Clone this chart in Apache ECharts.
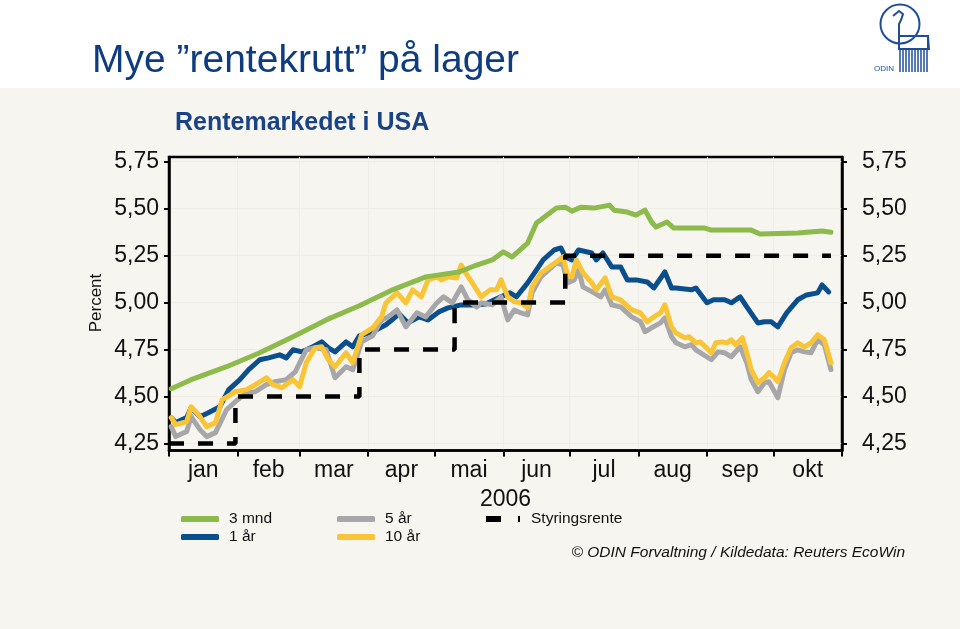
<!DOCTYPE html>
<html><head><meta charset="utf-8">
<script src="https://cdn.jsdelivr.net/npm/echarts@6/dist/echarts.min.js"></script>
<style>html,body{margin:0;padding:0;background:#fff}#c{width:960px;height:629px}</style>
</head><body><div id="c"></div>
<script>
// ---- data ----
const monthNames = ['jan','feb','mar','apr','mai','jun','jul','aug','sep','okt'];
const monthStarts = [0,31,59,90,120,151,181,212,243,273,304]; // day of year 2006
const monthMids = [15.5,45,74.5,105,135.5,166,196.5,227.5,258,288.5];
const yTicks = [4.25,4.5,4.75,5,5.25,5.5,5.75];

// 3 mnd
const daysM3 = [1,10,26,41,56,71,86,101,116,131,139,146,151,155,162,166,175,179,182,186,192,199,201,207,211,215,218,220,225,228,242,245,263,267,284,295,299];
const valsM3 = [4.542,4.590,4.659,4.733,4.818,4.908,4.983,5.068,5.137,5.163,5.200,5.227,5.270,5.243,5.317,5.424,5.503,5.508,5.487,5.508,5.503,5.519,5.492,5.482,5.466,5.492,5.429,5.402,5.429,5.397,5.397,5.386,5.386,5.365,5.370,5.381,5.375];
// 1 år
const days1Y = [1,3,8,10,14,18,23,27,32,36,41,45,50,53,56,60,65,69,72,75,80,83,86,92,98,104,108,113,117,122,126,132,139,143,147,150,154,157,162,166,169,174,177,179,182,185,191,193,196,200,204,207,211,216,219,224,227,229,236,238,243,246,251,254,258,261,266,269,272,275,279,284,288,293,295,298];
const vals1Y = [4.388,4.362,4.388,4.441,4.393,4.415,4.446,4.537,4.590,4.643,4.696,4.706,4.722,4.706,4.749,4.738,4.765,4.791,4.759,4.738,4.791,4.765,4.823,4.845,4.882,4.940,4.892,4.924,4.908,4.951,4.972,4.988,4.988,4.993,5.015,5.031,5.052,5.031,5.105,5.174,5.227,5.280,5.291,5.243,5.227,5.280,5.264,5.227,5.264,5.190,5.190,5.121,5.121,5.110,5.078,5.163,5.078,5.078,5.068,5.078,4.999,5.015,5.015,4.999,5.031,4.977,4.892,4.898,4.898,4.871,4.945,5.015,5.041,5.052,5.094,5.057];
// 5 år
const days5Y = [1,3,8,10,14,17,21,26,30,35,39,44,48,53,57,62,66,71,75,80,83,87,92,96,99,103,107,112,116,121,124,128,132,135,139,141,146,150,153,156,159,162,164,168,173,175,178,180,183,185,187,192,195,197,200,204,209,213,215,218,222,224,227,229,233,236,238,245,248,251,254,258,261,263,266,269,271,273,275,278,281,284,287,290,293,296,299];
const vals5Y = [4.340,4.287,4.314,4.393,4.324,4.287,4.308,4.430,4.473,4.521,4.526,4.563,4.579,4.590,4.632,4.749,4.760,4.749,4.600,4.659,4.643,4.792,4.823,4.908,4.924,4.961,4.871,4.946,4.924,4.999,5.031,4.999,5.084,5.015,4.977,4.999,4.988,5.030,4.908,4.961,4.945,4.935,5.052,5.137,5.190,5.211,5.200,5.105,5.121,5.174,5.084,5.052,5.031,5.068,4.988,4.977,4.924,4.898,4.845,4.866,4.892,4.919,4.818,4.786,4.765,4.776,4.749,4.696,4.738,4.733,4.712,4.765,4.680,4.590,4.526,4.574,4.579,4.537,4.494,4.643,4.733,4.749,4.738,4.733,4.802,4.776,4.643];
// 10 år
const days10Y = [1,3,8,10,14,17,21,24,30,35,39,44,47,51,56,59,62,66,69,72,75,80,83,87,92,96,98,103,107,110,114,117,121,123,126,130,132,134,137,141,145,148,150,153,156,159,162,164,168,173,175,178,180,182,184,187,191,193,197,200,204,209,213,216,219,222,224,227,229,233,235,238,240,245,247,250,252,254,256,259,261,263,266,269,271,273,275,278,281,284,287,290,293,296,299];
const vals10Y = [4.388,4.351,4.367,4.446,4.393,4.340,4.361,4.483,4.526,4.537,4.563,4.600,4.563,4.547,4.590,4.553,4.680,4.760,4.765,4.696,4.659,4.733,4.680,4.829,4.866,4.924,4.999,5.052,4.999,5.068,5.031,5.121,5.137,5.121,5.137,5.131,5.200,5.158,5.105,5.031,5.068,5.068,5.121,5.031,5.004,4.999,4.972,5.084,5.158,5.200,5.216,5.243,5.147,5.137,5.227,5.158,5.105,5.068,5.131,5.031,5.015,4.961,4.945,4.898,4.924,4.945,4.988,4.871,4.839,4.813,4.818,4.786,4.791,4.733,4.786,4.791,4.786,4.802,4.776,4.813,4.733,4.643,4.574,4.600,4.627,4.606,4.579,4.680,4.760,4.786,4.765,4.786,4.829,4.802,4.680];
// Styringsrente (Fed funds target)
const daysPolicy = [0,30,86,129,179,299];
const valsPolicy = [4.25,4.50,4.75,5.00,5.25,5.25];

// ---- chart ----
const FONT = '"Liberation Sans", Arial, Helvetica, sans-serif';
const GREEN = '#8cba4b', BLUE = '#0b4e8e', GRAY = '#a7a7a9', YELLOW = '#f9c536';
const pairs = (d, v) => d.map((x, i) => [x, v[i]]);
const fmtNum = v => v.toFixed(2).replace('.', ',');
const monthLabel = v => {
  let best = 0;
  monthMids.forEach((m, i) => { if (Math.abs(m - v) < Math.abs(monthMids[best] - v)) best = i; });
  return monthNames[best];
};

const yAxis = (pos, margin) => ({
  type: 'value', position: pos, min: 4.213, max: 5.775,
  axisLine: { show: true, lineStyle: { color: '#000', width: 2.5 } },
  axisTick: { show: true, length: 5, customValues: yTicks, lineStyle: { color: '#000', width: 2 } },
  axisLabel: { customValues: yTicks, formatter: fmtNum, margin: margin, color: '#111', fontSize: 23, fontFamily: FONT },
  splitLine: { show: pos === 'left', lineStyle: { color: '#eeede6', width: 1 } }
});

const lineSeries = (name, data, color, z) => ({
  name, type: 'line', data, symbol: 'none', showSymbol: false, z,
  lineStyle: { color, width: 5, cap: 'round', join: 'round' },
  itemStyle: { color }
});

const legendBase = {
  orient: 'vertical', top: 506, itemWidth: 38, itemHeight: 6, itemGap: 2,
  icon: 'roundRect', itemStyle: { borderWidth: 0 },
  textStyle: { fontSize: 15.5, color: '#111', fontFamily: FONT, padding: [0, 0, 0, 5] },
  selectedMode: false
};

const logoColor = '#1f4d99';
const combLines = [];
for (let i = 0; i < 10; i++) {
  combLines.push({ type: 'line', shape: { x1: 900 + i * 3, y1: 50, x2: 900 + i * 3, y2: 72 }, style: { stroke: logoColor, lineWidth: 1.5 } });
}

const option = {
  backgroundColor: '#ffffff',
  animation: false,
  grid: { left: 169, right: 118, top: 157, bottom: 178.5, show: true, borderColor: '#000', borderWidth: 2.5, backgroundColor: 'transparent' },
  xAxis: {
    type: 'value', min: 0, max: 304,
    axisLine: { lineStyle: { color: '#000', width: 2.5 } },
    axisTick: { show: true, length: 6, customValues: monthStarts, lineStyle: { color: '#000', width: 2 } },
    axisLabel: { customValues: monthMids, formatter: monthLabel, margin: 9, color: '#111', fontSize: 23, fontFamily: FONT },
    splitLine: { show: true, lineStyle: { color: '#eeede6', width: 1 } },
    name: '2006', nameLocation: 'middle', nameGap: 38,
    nameTextStyle: { fontSize: 23, color: '#111', fontFamily: FONT }
  },
  yAxis: [yAxis('left', 10), yAxis('right', 20)],
  legend: [
    Object.assign({}, legendBase, { left: 176, data: ['3 mnd', '1 år'] }),
    Object.assign({}, legendBase, { left: 332, data: ['5 år', '10 år'] }),
    Object.assign({}, legendBase, {
      left: 481, itemWidth: 34,
      textStyle: Object.assign({}, legendBase.textStyle, { padding: [0, 0, 0, 6] }),
      data: [{ name: 'Styringsrente', icon: 'path://M0,0H15V6H0ZM32,0H34V6H32Z' }]
    })
  ],
  series: [
    lineSeries('3 mnd', pairs(daysM3, valsM3), GREEN, 5),
    lineSeries('1 år', pairs(days1Y, vals1Y), BLUE, 2),
    lineSeries('5 år', pairs(days5Y, vals5Y), GRAY, 3),
    lineSeries('10 år', pairs(days10Y, vals10Y), YELLOW, 4),
    {
      name: 'Styringsrente', type: 'line', step: 'end', data: pairs(daysPolicy, valsPolicy),
      symbol: 'none', showSymbol: false, z: 6,
      lineStyle: { color: '#000', width: 4.5, type: [15, 14], cap: 'butt' },
      itemStyle: { color: '#000' }
    }
  ],
  graphic: [
    { type: 'rect', z: -100, silent: true, shape: { x: 0, y: 88, width: 960, height: 541 }, style: { fill: '#f6f5ef' } },
    { type: 'text', x: 92, y: 61, style: { text: 'Mye ”rentekrutt” på lager', fontSize: 39, fontFamily: FONT, fill: '#0d3d80', align: 'left', verticalAlign: 'middle' } },
    { type: 'text', x: 175, y: 123, style: { text: 'Rentemarkedet i USA', fontSize: 25, fontWeight: 'bold', fontFamily: FONT, fill: '#1a4385', align: 'left', verticalAlign: 'middle' } },
    { type: 'text', x: 96, y: 303, rotation: Math.PI / 2, style: { text: 'Percent', fontSize: 17, fontFamily: FONT, fill: '#111', align: 'center', verticalAlign: 'middle' } },
    { type: 'text', x: 905, y: 553, style: { text: '© ODIN Forvaltning / Kildedata: Reuters EcoWin', fontSize: 15.5, fontStyle: 'italic', fontFamily: FONT, fill: '#111', align: 'right', verticalAlign: 'middle' } },
    // ODIN logo (simplified)
    { type: 'group', silent: true, children: [
      { type: 'circle', shape: { cx: 900, cy: 24, r: 19.5 }, style: { fill: 'none', stroke: logoColor, lineWidth: 2 } },
      { type: 'polyline', shape: { points: [[893, 16], [899, 11], [903, 14], [901, 20], [899, 24], [899, 36], [928, 36], [929, 50]] }, style: { fill: 'none', stroke: logoColor, lineWidth: 2 } },
      { type: 'polyline', shape: { points: [[899, 36], [899, 49], [928, 49], [928, 36]] }, style: { fill: 'none', stroke: logoColor, lineWidth: 2 } },
      { type: 'text', x: 884, y: 69, style: { text: 'ODIN', fontSize: 8, fontFamily: FONT, fill: logoColor, align: 'center', verticalAlign: 'middle' } }
    ].concat(combLines) }
  ]
};

const chart = echarts.init(document.getElementById('c'), null, { renderer: 'canvas' });
chart.setOption(option);
</script>
</body></html>
